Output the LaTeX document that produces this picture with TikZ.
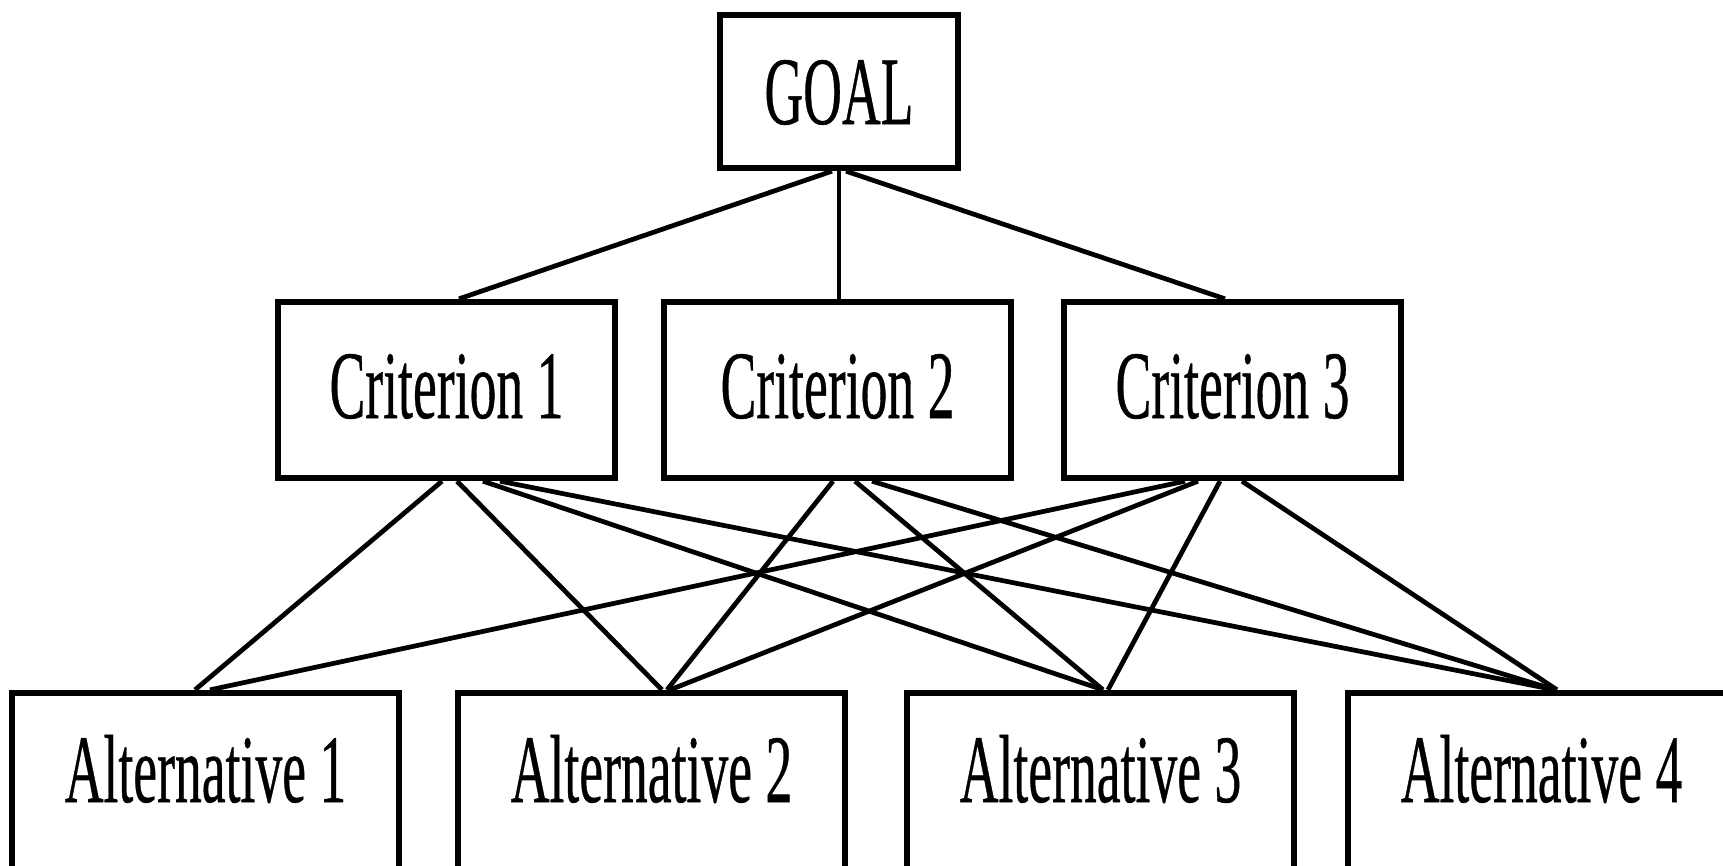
\documentclass[tikz,border=0pt]{standalone}
\usepackage{fontspec}
\usepackage{graphicx}
\setmainfont{Liberation Serif}[UprightFeatures={FakeBold=0.6}]
\newcommand{\narrowtxt}[1]{\scalebox{0.555}[1]{#1}}
\tikzset{
  box/.style={draw=black, line width=1.8pt, rectangle, inner sep=0pt, anchor=base,
              font=\fontsize{27.5}{30}\selectfont},
  goalbox/.style={box, minimum width=2.38cm, text height=1.09cm, text depth=0.44cm},
  critbox/.style={box, text height=1.16cm, text depth=0.60cm},
  altbox/.style={box, minimum width=3.87cm, text height=1.09cm, text depth=0.80cm},
  conn/.style={draw=black, line width=1.35pt}
}
\begin{document}
\begin{tikzpicture}
\useasboundingbox (0,0) rectangle (17.23,-8.65);
\clip (0,0) rectangle (17.23,-8.65);
\fill[white] (0,0) rectangle (17.23,-8.65);
% nodes
\node[goalbox] (goal) at (8.39,-1.24) {\narrowtxt{GOAL}};
\node[critbox, minimum width=3.37cm] (c1) at (4.465,-4.18) {\narrowtxt{Criterion 1}};
\node[critbox, minimum width=3.47cm] (c2) at (8.375,-4.18) {\narrowtxt{Criterion 2}};
\node[critbox, minimum width=3.37cm] (c3) at (12.325,-4.18) {\narrowtxt{Criterion 3}};
\node[altbox] (a1) at (2.055,-8.02) {\narrowtxt{Alternative 1}};
\node[altbox] (a2) at (6.515,-8.02) {\narrowtxt{Alternative 2}};
\node[altbox] (a3) at (11.005,-8.02) {\narrowtxt{Alternative 3}};
\node[altbox] (a4) at (15.415,-8.02) {\narrowtxt{Alternative 4}};
% goal to criteria
\draw[conn] ([xshift=-0.07cm]goal.south) -- ([xshift=0.125cm]c1.north);
\draw[conn] (goal.south) -- (goal.south |- c2.north);
\draw[conn] ([xshift=0.07cm]goal.south) -- ([xshift=-0.075cm]c3.north);
% criterion 1
\draw[conn] ([xshift=-0.045cm]c1.south) -- ([xshift=-0.105cm]a1.north);
\draw[conn] ([xshift=0.105cm]c1.south) -- ([xshift=0.105cm]a2.north);
\draw[conn] ([xshift=0.365cm]c1.south) -- ([xshift=0.025cm]a3.north);
\draw[conn] ([xshift=0.535cm]c1.south) -- ([xshift=0.135cm]a4.north);
% criterion 2
\draw[conn] ([xshift=-0.045cm]c2.south) -- ([xshift=0.155cm]a2.north);
\draw[conn] ([xshift=0.175cm]c2.south) -- ([xshift=0.025cm]a3.north);
\draw[conn] ([xshift=0.345cm]c2.south) -- ([xshift=0.135cm]a4.north);
% criterion 3
\draw[conn] ([xshift=-0.475cm]c3.south) -- ([xshift=0.045cm]a1.north);
\draw[conn] ([xshift=-0.345cm]c3.south) -- ([xshift=0.185cm]a2.north);
\draw[conn] ([xshift=-0.125cm]c3.south) -- ([xshift=0.075cm]a3.north);
\draw[conn] ([xshift=0.095cm]c3.south) -- ([xshift=0.155cm]a4.north);
\end{tikzpicture}
\end{document}
